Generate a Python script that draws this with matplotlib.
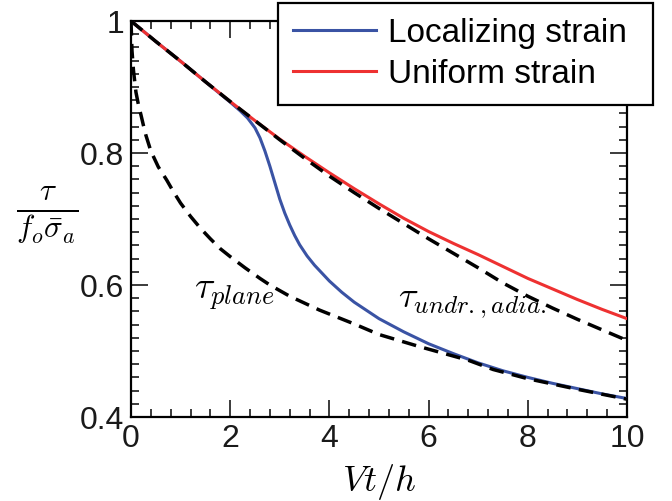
import matplotlib
matplotlib.use("Agg")
import matplotlib.pyplot as plt
from matplotlib.ticker import MultipleLocator

plt.rcParams['font.family'] = ['Liberation Sans', 'DejaVu Sans']
plt.rcParams['mathtext.fontset'] = 'cm'

# localizing strain solution
x_loc = [0, 0.5, 1, 1.5, 2, 2.2, 2.35, 2.5, 2.6, 2.7, 2.8, 2.9, 3.0, 3.1, 3.2, 3.3,
         3.4, 3.55, 3.7, 3.85, 4, 4.25, 4.5, 5, 5.5, 6, 6.5, 7, 7.5, 8, 8.5, 9, 9.5, 10]
tau_loc = [1.0, 0.969, 0.939, 0.908, 0.877, 0.864, 0.853, 0.838, 0.823, 0.803,
           0.780, 0.755, 0.730, 0.709, 0.691, 0.675, 0.661, 0.644, 0.630, 0.618,
           0.606, 0.589, 0.574, 0.549, 0.529, 0.511, 0.496, 0.482, 0.470, 0.460,
           0.451, 0.443, 0.435, 0.428]

# uniform strain solution
x_uni = [0, 0.5, 1, 1.5, 2, 2.5, 3, 3.5, 4, 4.5, 5, 5.5, 6, 6.5, 7, 7.5, 8, 8.5, 9, 9.5, 10]
tau_uni = [1.0, 0.969, 0.939, 0.908, 0.878, 0.849, 0.821, 0.795, 0.770, 0.746, 0.723,
           0.701, 0.681, 0.663, 0.646, 0.628, 0.610, 0.594, 0.578, 0.563, 0.549]

# undrained, adiabatic limit
tau_undr = [1.0, 0.969, 0.939, 0.908, 0.878, 0.849, 0.820, 0.792, 0.765, 0.740, 0.716,
            0.693, 0.670, 0.648, 0.626, 0.603, 0.583, 0.565, 0.548, 0.532, 0.516]

# plane limit
x_plane = [0, 0.02, 0.05, 0.1, 0.15, 0.2, 0.25, 0.3, 0.4, 0.55, 0.72, 0.85, 1.0, 1.2,
           1.4, 1.6, 1.8, 2.0, 2.3, 2.6, 2.8, 3.2, 3.8, 4.5, 5.0, 5.8, 6.8, 7.3, 8, 9, 10]
tau_plane = [1.0, 0.955, 0.925, 0.892, 0.873, 0.858, 0.842, 0.827, 0.803, 0.779,
             0.759, 0.742, 0.724, 0.704, 0.686, 0.670, 0.655, 0.643, 0.626, 0.610,
             0.600, 0.583, 0.562, 0.541, 0.525, 0.507, 0.486, 0.472, 0.458, 0.442,
             0.427]

fig = plt.figure(figsize=(6.72, 5.01), dpi=100)
ax = fig.add_axes([131/672, 1-417/501, 496/672, 396/501])

ax.plot(x_loc, tau_loc, color='#3a53a4', lw=2.2, label='Localizing strain', zorder=3)
ax.plot(x_uni, tau_uni, color='#ee3131', lw=2.2, label='Uniform strain', zorder=3)
ax.plot(x_uni, tau_undr, color='black', lw=2.5, dashes=(4.2, 2.4), zorder=4)
ax.plot(x_plane, tau_plane, color='black', lw=2.5, dashes=(4.2, 2.4), zorder=4)

ax.text(1.28, 0.586, r'$\tau_{plane}$', fontsize=27, va='center')
ax.text(5.38, 0.574, r'$\tau_{undr.,adia.}$', fontsize=26, va='center')

ax.set_xlim(0, 10)
ax.set_ylim(0.4, 1.0)
ax.xaxis.set_major_locator(MultipleLocator(2))
ax.xaxis.set_minor_locator(MultipleLocator(0.4))
ax.yaxis.set_minor_locator(MultipleLocator(0.02))
ax.set_yticks([0.4, 0.6, 0.8, 1.0])
ax.set_yticklabels(['0.4', '0.6', '0.8', '1'])
ax.tick_params(which='both', direction='in', top=True, right=True, width=1.2,
               labelsize=23, colors='#1a1a1a')
ax.tick_params(which='major', length=12, pad=5)
ax.tick_params(which='minor', length=6)
for s in ax.spines.values():
    s.set_linewidth(1.6)

ax.set_xlabel(r'$Vt/h$', fontsize=26, labelpad=6)
ax.set_ylabel(r'$\frac{\tau}{f_o\bar{\sigma}_a}$', fontsize=32, rotation=0,
              ha='center', va='center')
ax.yaxis.set_label_coords(-0.17, 0.51)

leg = ax.legend(loc='upper left', bbox_to_anchor=(278/672, 1-104/501, 375/672, 101/501),
                bbox_transform=fig.transFigure, mode='expand', fontsize=24,
                frameon=True, fancybox=False, framealpha=1, edgecolor='black',
                handlelength=2.5, handletextpad=0.35, borderpad=0.45,
                labelspacing=0.3, borderaxespad=0)
leg.get_frame().set_linewidth(1.6)
leg.set_zorder(10)

fig.savefig('out.png', dpi=100)
